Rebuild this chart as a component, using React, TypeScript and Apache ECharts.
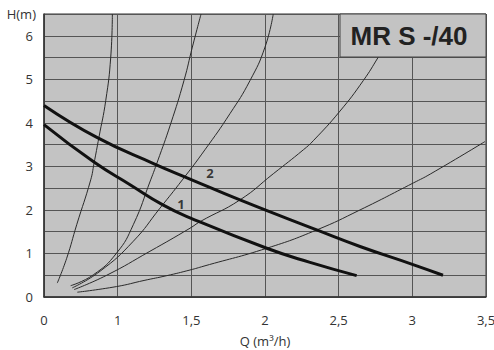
import React, { useEffect, useRef } from "react";
import * as echarts from "echarts";

// Q axis is drawn with equal spacing 0.5 units; the first tick (0.5 position) is labelled "0"
const xTicks = [0.5, 1, 1.5, 2, 2.5, 3, 3.5];
const xTickLabels = ["0", "1", "1,5", "2", "2,5", "3", "3,5"];

// pump curves [Q-position, H]
const pump2: [number, number][] = [
  [0.5, 4.4], [0.862, 3.66], [1.247, 3.06], [1.491, 2.71], [1.83, 2.23],
  [2.351, 1.54], [2.645, 1.16], [3.0, 0.75], [3.208, 0.5],
];
const pump1: [number, number][] = [
  [0.5, 3.96], [0.839, 3.1], [1.084, 2.58], [1.31, 2.11], [1.491, 1.82],
  [2.012, 1.12], [2.3, 0.8], [2.622, 0.49],
];

// system curves
const sysA: [number, number][] = [
  [0.59, 0.32], [0.654, 0.89], [0.722, 1.66], [0.817, 2.69], [0.839, 3.06],
  [0.873, 3.67], [0.919, 4.51], [0.953, 5.51], [0.964, 6.5],
];
const sysB: [number, number][] = [
  [0.681, 0.26], [0.835, 0.51], [0.993, 1.01], [1.106, 1.66], [1.224, 2.69],
  [1.269, 3.1], [1.36, 3.98], [1.45, 4.97], [1.507, 5.74], [1.566, 6.5],
];
const sysC: [number, number][] = [
  [0.692, 0.21], [0.88, 0.59], [1.106, 1.28], [1.287, 2.04], [1.439, 2.69],
  [1.592, 3.38], [1.762, 4.21], [1.898, 4.97], [2.0, 5.74], [2.056, 6.5],
];
const sysD: [number, number][] = [
  [0.704, 0.17], [0.926, 0.5], [1.219, 1.05], [1.491, 1.58], [1.559, 1.73],
  [1.83, 2.23], [2.056, 2.83], [2.26, 3.38], [2.328, 3.59], [2.509, 4.27],
  [2.667, 4.97], [2.769, 5.51], [2.815, 5.78],
];
const sysE: [number, number][] = [
  [0.726, 0.11], [0.993, 0.24], [1.179, 0.38], [1.333, 0.49], [1.491, 0.62],
  [1.586, 0.71], [2.012, 1.12], [2.351, 1.54], [2.645, 2.0], [3.007, 2.62],
  [3.125, 2.83], [3.493, 3.57],
];

const curveLabels: { name: string; value: [number, number] }[] = [
  { name: "1", value: [1.43, 2.14] },
  { name: "2", value: [1.627, 2.85] },
];

const title = "MR S -/40";

export default function App() {
  const ref = useRef<HTMLDivElement>(null);
  useEffect(() => {
    if (!ref.current) return;
    const chart = echarts.init(ref.current, undefined, { renderer: "svg" });
    const thin = (data: [number, number][]) => ({
      type: "line",
      data,
      smooth: 0.5,
      showSymbol: false,
      symbol: "none",
      lineStyle: { color: "#2a2a2a", width: 1 },
      z: 3,
    });
    const thick = (data: [number, number][]) => ({
      type: "line",
      data,
      smooth: 0.5,
      showSymbol: false,
      symbol: "none",
      lineStyle: { color: "#111", width: 3 },
      z: 4,
    });
    chart.setOption({
      animation: false,
      grid: {
        left: 44,
        right: 8,
        top: 14,
        bottom: 53,
        outerBoundsMode: "none",
        show: true,
        backgroundColor: "#c3c3c3",
        borderColor: "#333",
        borderWidth: 1,
      },
      xAxis: {
        type: "value",
        min: 0.5,
        max: 3.5,
        interval: 0.5,
        name: "Q (m³/h)",
        nameLocation: "middle",
        nameGap: 37,
        nameTextStyle: { fontFamily: "Open Sans", fontSize: 13, color: "#333" },
        axisLine: { show: true, lineStyle: { color: "#333", width: 1.5 } },
        axisTick: { show: false },
        axisLabel: {
          margin: 16,
          fontFamily: "Open Sans",
          fontSize: 13,
          color: "#333",
          formatter: (v: number) => {
            const i = xTicks.findIndex((t) => Math.abs(t - v) < 1e-6);
            return i >= 0 ? xTickLabels[i] : "";
          },
        },
        splitLine: { show: true, lineStyle: { color: "#555", width: 1 } },
      },
      yAxis: {
        type: "value",
        min: 0,
        max: 6.5,
        interval: 0.5,
        name: "H(m)",
        nameLocation: "end",
        nameGap: 0,
        nameTextStyle: {
          fontFamily: "Open Sans",
          fontSize: 13,
          color: "#333",
          align: "right",
          verticalAlign: "middle",
          padding: [0, 8, 0, 0],
        },
        axisLine: { show: true, lineStyle: { color: "#333", width: 1.5 } },
        axisTick: { show: false },
        axisLabel: {
          margin: 11,
          fontFamily: "Open Sans",
          fontSize: 13,
          color: "#333",
          formatter: (v: number) => (Number.isInteger(v) && v <= 6 ? String(v) : ""),
        },
        splitLine: { show: true, lineStyle: { color: "#555", width: 1 } },
      },
      graphic: [
        {
          type: "rect",
          z: 100,
          shape: { x: 340, y: 14, width: 146, height: 43 },
          style: { fill: "#c3c3c3", stroke: "#444", lineWidth: 1 },
        },
        {
          type: "text",
          z: 101,
          x: 409,
          y: 36,
          style: {
            text: title,
            fontFamily: "Liberation Sans",
            fontWeight: "bold",
            fontSize: 26,
            fill: "#222",
            align: "center",
            verticalAlign: "middle",
          },
        },
      ],
      series: [
        thin(sysA),
        thin(sysB),
        thin(sysC),
        thin(sysD),
        thin(sysE),
        thick(pump1),
        thick(pump2),
        {
          type: "scatter",
          data: curveLabels,
          symbolSize: 0,
          z: 5,
          label: {
            show: true,
            formatter: (p: any) => p.name,
            position: "inside",
            fontFamily: "Open Sans",
            fontWeight: "bold",
            fontSize: 13,
            color: "#111",
          },
        },
      ],
    });
    return () => chart.dispose();
  }, []);
  return (
    <div
      ref={ref}
      style={{ position: "absolute", left: 0, top: 0, width: 494, height: 350 }}
    />
  );
}
